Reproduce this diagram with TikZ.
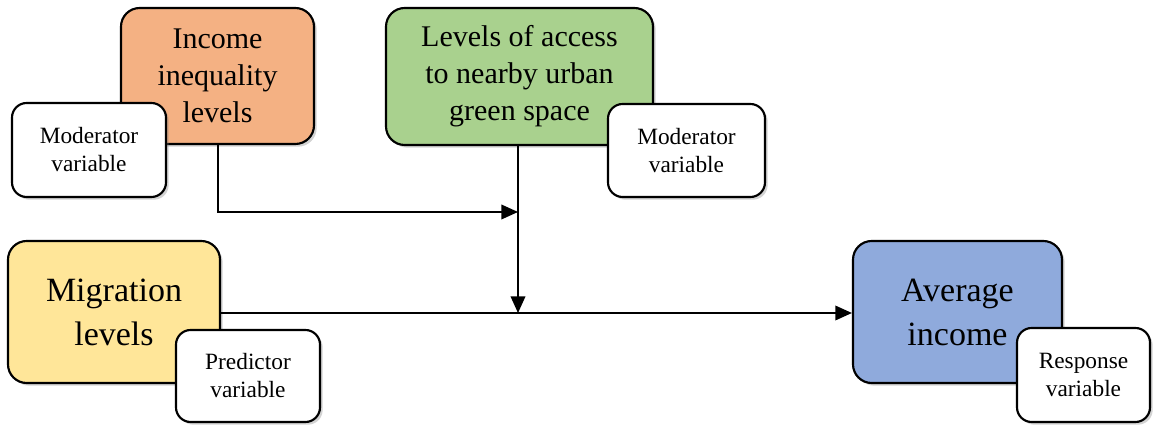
\documentclass[tikz,border=0pt]{standalone}
\usepackage{fontspec}
\setmainfont{Liberation Serif}
\usepackage{tikz}
\usetikzlibrary{arrows.meta,shadows}
\definecolor{incomeorange}{HTML}{F4B183}
\definecolor{greengreen}{HTML}{A9D18E}
\definecolor{migyellow}{HTML}{FFE699}
\definecolor{avgblue}{HTML}{8FAADC}
\tikzstyle{factor}=[rectangle, draw, line width=1.6pt
,rounded corners=14pt
,align=center
,inner sep=0pt
,drop shadow={shadow xshift=2pt, shadow yshift=-2pt, opacity=0.35}
]
\tikzstyle{mid factor} = [factor, font=\fontsize{22.5}{27.75}\selectfont]
\tikzstyle{big factor} = [factor, font=\fontsize{25.5}{33}\selectfont]
\tikzstyle{tag} = [factor, fill=white, rounded corners=11pt
,font=\fontsize{17.5}{21}\selectfont]
\tikzstyle{link} = [draw, line width=1.2pt, -{Triangle[length=12.5pt,width=11pt]}]

\begin{document}
\begin{tikzpicture}[x=0.75pt,y=-0.75pt]
    \useasboundingbox (0,0) rectangle (1157,427);
    % The four factor boxes
    \node[mid factor, fill=incomeorange, minimum width=144.75pt, minimum height=102pt]
        (inc) at (217.5,76) {Income\\inequality\\levels};
    \node[mid factor, fill=greengreen, minimum width=200.25pt, minimum height=102.75pt]
        (green) at (519.5,76.5) {Levels of access\\to nearby urban\\green space};
    \node[big factor, fill=migyellow, minimum width=159pt, minimum height=106.5pt]
        (mig) at (114,312) {Migration\\levels};
    \node[big factor, fill=avgblue, minimum width=156.75pt, minimum height=106.5pt]
        (avg) at (957.5,312) {Average\\income};

    % Then the small tags on top of them
    \node[tag, minimum width=115.5pt, minimum height=70.5pt] (mod1) at (89,150) {Moderator\\variable};
    \node[tag, minimum width=117.75pt, minimum height=69.75pt] (mod2) at (686.5,150.5) {Moderator\\variable};
    \node[tag, minimum width=108pt, minimum height=69pt] (pred) at (248,376) {Predictor\\variable};
    \node[tag, minimum width=99.75pt, minimum height=70.5pt] (resp) at (1083.5,375) {Response\\variable};

    % Connect them
    \coordinate (meet) at (518,313);
    \coordinate (join) at (518,212);
    \coordinate (turn) at (218,212);
    \path[link] (inc.south -| turn) -- (turn) -- (join);
    \path[link] (green.south -| meet) -- (meet);
    \path[link] (mig.east |- meet) -- (avg.west |- meet);
\end{tikzpicture}
\end{document}
